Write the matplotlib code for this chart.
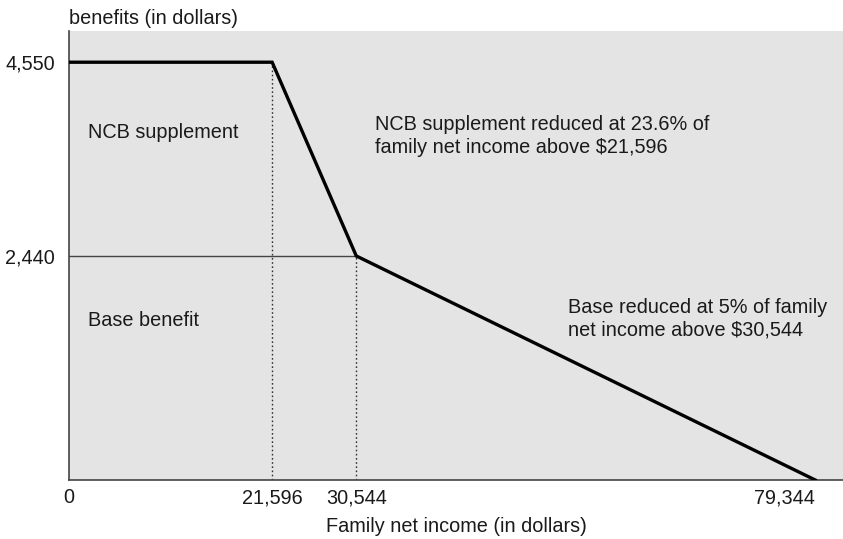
import numpy as np
import matplotlib.pyplot as plt

plt.rcParams['font.family'] = ['Liberation Sans', 'DejaVu Sans']

# benefit schedule (income, benefit)
income = [0, 21596, 30544, 79344]
benefit = [4550, 4550, 2440, 0]
xticks = [0, 21596, 30544, 79344]
xtick_labels = ['0', '21,596', '30,544', '79,344']
yticks = [2440, 4550]
ytick_labels = ['2,440', '4,550']

fs = 14.3
tc = '#1a1a1a'

fig = plt.figure(figsize=(8.43, 5.39), dpi=100)
ax = fig.add_axes([0.0819, 0.1095, 0.9181, 0.833])
ax.set_facecolor('#e4e4e4')

ax.plot(income, benefit, color='black', lw=2.4, solid_joinstyle='miter', zorder=3)
ax.plot([0, income[2]], [benefit[2], benefit[2]], color='#444444', lw=1.0, zorder=2)
ax.plot([income[1], income[1]], [0, benefit[1]], color='#333333', lw=1.0, ls=(0, (1.2, 1.8)), zorder=2)
ax.plot([income[2], income[2]], [0, benefit[2]], color='#333333', lw=1.0, ls=(0, (1.2, 1.8)), zorder=2)

ax.set_xlim(0, 82300)
ax.set_ylim(0, 4890)
ax.set_xticks(xticks)
ax.set_xticklabels(xtick_labels)
ax.set_yticks(yticks)
ax.set_yticklabels(ytick_labels)
ax.tick_params(length=0, labelsize=fs, colors=tc, pad=6)
ax.tick_params(axis='y', pad=10)
ax.get_xticklabels()[-1].set_horizontalalignment('right')

for s in ['top', 'right']:
    ax.spines[s].set_visible(False)
for s in ['left', 'bottom']:
    ax.spines[s].set_color('#444444')
    ax.spines[s].set_linewidth(1.2)

ax.set_xlabel('Family net income (in dollars)', fontsize=fs, color=tc, labelpad=7)
fig.text(0.0819, 0.966, 'benefits (in dollars)', fontsize=fs, color=tc, va='center', ha='left')

ax.text(2020, 3780, 'NCB supplement', fontsize=fs, color=tc, va='center')
ax.text(2020, 1742, 'Base benefit', fontsize=fs, color=tc, va='center')
ax.text(32500, 3745, 'NCB supplement reduced at 23.6% of\nfamily net income above $21,596',
        fontsize=fs, color=tc, va='center', linespacing=1.3)
ax.text(53050, 1755, 'Base reduced at 5% of family\nnet income above $30,544',
        fontsize=fs, color=tc, va='center', linespacing=1.27)

fig.savefig('out.png', dpi=100)
